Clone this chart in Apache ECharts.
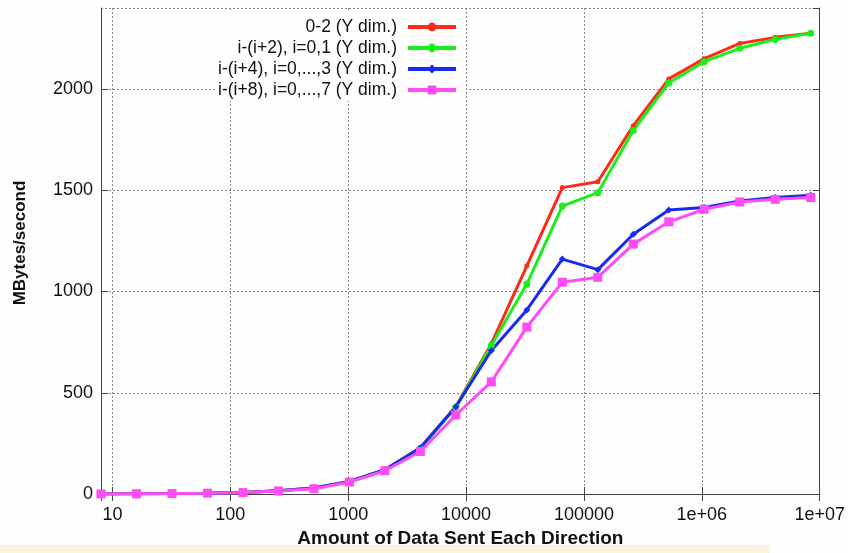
<!DOCTYPE html>
<html>
<head>
<meta charset="utf-8">
<script src="https://cdn.jsdelivr.net/npm/echarts@6/dist/echarts.min.js"></script>
<style>
  html, body { margin: 0; padding: 0; background: #fefefe; }
  #main { width: 848px; height: 553px; }
</style>
</head>
<body>
<div id="main"></div>
<script>
// message sizes 8 .. 2^23 bytes
const sizes = [8, 16, 32, 64, 128, 256, 512, 1024, 2048, 4096, 8192, 16384, 32768,
  65536, 131072, 262144, 524288, 1048576, 2097152, 4194304, 8388608];
const seriesNames = ['0-2 (Y dim.)', 'i-(i+2), i=0,1 (Y dim.)',
  'i-(i+4), i=0,...,3 (Y dim.)', 'i-(i+8), i=0,...,7 (Y dim.)'];
const pair02 = [0.5, 1, 2, 4, 8, 16, 30, 62, 120, 228, 432, 742, 1127, 1513, 1542, 1819, 2050, 2150, 2225, 2255, 2275];
const pairs2 = [0.5, 1, 2, 4, 8, 16, 30, 62, 120, 226, 428, 733, 1037, 1422, 1488, 1795, 2030, 2135, 2201, 2245, 2275];
const pairs4 = [0.5, 1, 2, 4, 8, 16, 30, 62, 120, 228, 431, 709, 909, 1160, 1108, 1283, 1403, 1415, 1447, 1464, 1475];
const pairs8 = [0.5, 1, 2, 4, 7, 15, 26, 59, 115, 210, 390, 554, 824, 1046, 1070, 1234, 1344, 1406, 1442, 1455, 1464];

const colors = ['#ff2a1a', '#19f019', '#1a2bf0', '#ff4cf5'];
const symbols = ['circle', 'circle', 'diamond', 'rect'];
const symbolSizes = [5, 7, 7, 9];
const values = [pair02, pairs2, pairs4, pairs8];

const chart = echarts.init(document.getElementById('main'));
const font = '"Liberation Sans", Arial, sans-serif';

function fmtX(v) {
  if (v >= 1e6) return '1e+0' + Math.round(Math.log10(v));
  return String(Math.round(v));
}

const series = seriesNames.map((name, i) => ({
  name: name,
  type: 'line',
  data: sizes.map((s, j) => [s, values[i][j]]),
  symbol: symbols[i],
  symbolSize: symbolSizes[i],
  showAllSymbol: true,
  lineStyle: { color: colors[i], width: 3 },
  itemStyle: { color: colors[i] }
}));

chart.setOption({
  backgroundColor: '#fefefe',
  animation: false,
  textStyle: { fontFamily: font },
  graphic: [{
    type: 'rect', left: 0, top: 545, z: -1,
    shape: { width: 770, height: 8 },
    style: { fill: '#fdf1df' }
  }],
  legend: {
    orient: 'vertical',
    right: 382,
    top: 12,
    align: 'right',
    backgroundColor: '#fefefe',
    padding: [6, 8, 2, 2],
    itemWidth: 48,
    itemHeight: 11,
    itemGap: 3,
    lineStyle: { width: 4 },
    textStyle: { fontSize: 17.5, color: '#111', fontFamily: font, padding: [0, 6, 0, 0] },
    data: seriesNames
  },
  grid: { left: 101, right: 28, top: 8, bottom: 57 },
  xAxis: [{
    type: 'log',
    min: 8,
    max: 1e7,
    logBase: 10,
    name: 'Amount of Data Sent Each Direction',
    nameLocation: 'middle',
    nameGap: 35,
    nameTextStyle: { fontSize: 19, fontWeight: 'bold', color: '#111' },
    axisLine: { lineStyle: { color: '#444', width: 1 } },
    axisTick: { inside: true, length: 7, lineStyle: { color: '#444' } },
    axisLabel: {
      fontSize: 18, color: '#111', margin: 12,
      showMinLabel: false, formatter: fmtX
    },
    splitLine: { show: true, lineStyle: { color: '#888', type: [2, 2], width: 1 } }
  }, {
    type: 'log',
    position: 'top',
    min: 8,
    max: 1e7,
    logBase: 10,
    axisLine: { lineStyle: { color: '#444', width: 1 } },
    axisTick: { inside: true, length: 7, lineStyle: { color: '#444' } },
    axisLabel: { show: false },
    splitLine: { show: false }
  }],
  yAxis: [{
    type: 'value',
    min: 0,
    max: 2400,
    interval: 500,
    name: 'MBytes/second',
    nameLocation: 'middle',
    nameGap: 72,
    nameTextStyle: { fontSize: 17, fontWeight: 'bold', color: '#111', padding: [0, 0, 0, 16] },
    axisLine: { show: true, lineStyle: { color: '#444', width: 1 } },
    axisTick: { show: true, inside: true, length: 7, lineStyle: { color: '#444' } },
    axisLabel: { fontSize: 18, color: '#111', margin: 8, showMaxLabel: false, formatter: v => String(v) },
    splitLine: { show: true, lineStyle: { color: '#888', type: [2, 2], width: 1 } }
  }, {
    type: 'value',
    position: 'right',
    min: 0,
    max: 2400,
    interval: 500,
    axisLine: { show: true, lineStyle: { color: '#444', width: 1 } },
    axisTick: { show: true, inside: true, length: 7, lineStyle: { color: '#444' } },
    axisLabel: { show: false },
    splitLine: { show: false }
  }],
  series: series
});
</script>
</body>
</html>
